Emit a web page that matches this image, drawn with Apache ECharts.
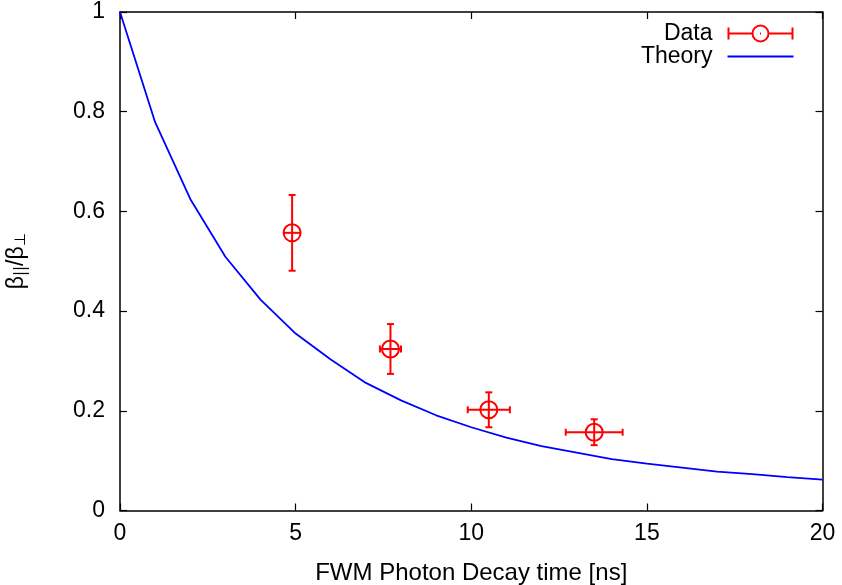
<!DOCTYPE html>
<html>
<head>
<meta charset="utf-8">
<script src="https://cdn.jsdelivr.net/npm/echarts@6/dist/echarts.min.js"></script>
<style>html,body{margin:0;padding:0;background:#fff;}#c{width:842px;height:585px;}</style>
</head>
<body>
<div id="c"></div>
<script>
// Measured data points (FWM photon decay time [ns] vs beta ratio)
var decayTime = [4.9, 7.7, 10.5, 13.5];
var timeErr = [0.0, 0.3, 0.6, 0.81];
var ratio = [0.557, 0.324, 0.202, 0.157];
var ratioErr = [0.076, 0.05, 0.035, 0.026];

// Theory curve
var theoryTime = [0,1,2,3,4,5,6,7,8,9,10,11,12,13,14,15,16,17,18,19,20];
var theoryRatio = [1, 0.779, 0.625, 0.509, 0.423, 0.355, 0.303, 0.256, 0.221, 0.191, 0.167,
                   0.146, 0.129, 0.116, 0.103, 0.094, 0.086, 0.078, 0.073, 0.067, 0.062];

var xTicks = [0, 5, 10, 15, 20];
var yTicks = [0, 0.2, 0.4, 0.6, 0.8, 1];

var FONT = 'Liberation Sans, Arial, Helvetica, sans-serif';
var RED = '#ff0000';
var BLUE = '#0000ff';

var errData = decayTime.map(function (t, i) {
  return [t, ratio[i], timeErr[i], ratioErr[i]];
});
var theoryData = theoryTime.map(function (t, i) { return [t, theoryRatio[i]]; });

function renderErr(params, api) {
  var x = api.value(0), y = api.value(1), dx = api.value(2), dy = api.value(3);
  var c = api.coord([x, y]);
  var top = api.coord([x, y + dy]);
  var bot = api.coord([x, y - dy]);
  var lft = api.coord([x - dx, y]);
  var rgt = api.coord([x + dx, y]);
  var r = 8.5, cap = 3.5;
  var st = { stroke: RED, lineWidth: 2, fill: null };
  var kids = [
    { type: 'line', shape: { x1: c[0], y1: top[1], x2: c[0], y2: bot[1] }, style: st },
    { type: 'line', shape: { x1: c[0] - cap, y1: top[1], x2: c[0] + cap, y2: top[1] }, style: st },
    { type: 'line', shape: { x1: c[0] - cap, y1: bot[1], x2: c[0] + cap, y2: bot[1] }, style: st },
    { type: 'circle', shape: { cx: c[0], cy: c[1], r: r }, style: { stroke: RED, lineWidth: 2, fill: 'none' } }
  ];
  var hx1 = Math.min(lft[0], c[0] - r), hx2 = Math.max(rgt[0], c[0] + r);
  kids.push({ type: 'line', shape: { x1: hx1, y1: c[1], x2: hx2, y2: c[1] }, style: st });
  if (dx > 0) {
    kids.push({ type: 'line', shape: { x1: lft[0], y1: c[1] - cap, x2: lft[0], y2: c[1] + cap }, style: st });
    kids.push({ type: 'line', shape: { x1: rgt[0], y1: c[1] - cap, x2: rgt[0], y2: c[1] + cap }, style: st });
  }
  return { type: 'group', children: kids };
}

var axisLineStyle = { color: '#000', width: 1.5 };
var tickStyle = { show: true, inside: true, length: 7, lineStyle: { color: '#000', width: 1.2 } };

var dataIcon = 'path://M1 2 L1 14 M1 8 L25 8 M41 8 L65 8 M65 2 L65 14 M25 8 A8 8 0 1 1 41 8 A8 8 0 1 1 25 8 M32.5 8 L33.5 8';

var chart = echarts.init(document.getElementById('c'), null, { renderer: 'canvas' });
chart.setOption({
  backgroundColor: '#fff',
  animation: false,
  grid: { left: 120, top: 12, right: 19.5, bottom: 74.5, containLabel: false, outerBoundsMode: 'none' },
  legend: {
    orient: 'vertical',
    right: 42,
    top: 17,
    align: 'right',
    itemWidth: 66,
    itemHeight: 16,
    itemGap: 0,
    textStyle: { fontFamily: FONT, fontSize: 23, lineHeight: 20, color: '#000', padding: [0, 10, 0, 0] },
    data: [
      { name: 'Data', icon: dataIcon, itemStyle: { color: 'none', borderColor: RED, borderWidth: 2 } },
      { name: 'Theory', icon: 'path://M0 7 L66 7 L66 9 L0 9 Z', itemStyle: { color: BLUE } }
    ]
  },
  xAxis: [
    {
      type: 'value', min: 0, max: 20, interval: 5, position: 'bottom',
      name: 'FWM Photon Decay time [ns]', nameLocation: 'middle', nameGap: 51,
      nameTextStyle: { fontFamily: FONT, fontSize: 24, color: '#000' },
      axisLine: { show: true, onZero: false, lineStyle: axisLineStyle },
      axisTick: tickStyle,
      axisLabel: { margin: 12, fontFamily: FONT, fontSize: 23, color: '#000' },
      splitLine: { show: false }
    },
    {
      type: 'value', min: 0, max: 20, interval: 5, position: 'top',
      axisLine: { show: true, onZero: false, lineStyle: axisLineStyle },
      axisTick: tickStyle,
      axisLabel: { show: false },
      splitLine: { show: false }
    }
  ],
  yAxis: [
    {
      type: 'value', min: 0, max: 1, interval: 0.2, position: 'left',
      name: '{b|β}{s|||}{b|/β}{s|⊥}', nameLocation: 'middle', nameGap: 91, nameRotate: 90,
      nameTextStyle: {
        fontFamily: FONT, fontSize: 23, color: '#000',
        rich: {
          b: { fontFamily: FONT, fontSize: 23, color: '#000', verticalAlign: 'middle' },
          s: { fontFamily: 'DejaVu Sans, ' + FONT, fontSize: 15, color: '#000', padding: [10, 0, 0, 0] }
        }
      },
      axisLine: { show: true, onZero: false, lineStyle: axisLineStyle },
      axisTick: tickStyle,
      axisLabel: { margin: 15, fontFamily: FONT, fontSize: 23, color: '#000',
        formatter: function (v) { return String(Math.round(v * 10) / 10); } },
      splitLine: { show: false }
    },
    {
      type: 'value', min: 0, max: 1, interval: 0.2, position: 'right',
      axisLine: { show: true, onZero: false, lineStyle: axisLineStyle },
      axisTick: tickStyle,
      axisLabel: { show: false },
      splitLine: { show: false }
    }
  ],
  series: [
    {
      name: 'Data', type: 'custom', xAxisIndex: 0, yAxisIndex: 0,
      renderItem: renderErr, data: errData, z: 3,
      itemStyle: { color: RED },
      encode: { x: 0, y: 1 }
    },
    {
      name: 'Theory', type: 'line', xAxisIndex: 0, yAxisIndex: 0,
      data: theoryData, showSymbol: false, symbol: 'none',
      lineStyle: { color: BLUE, width: 1.8 }, itemStyle: { color: BLUE }, z: 2
    }
  ]
});
</script>
</body>
</html>
